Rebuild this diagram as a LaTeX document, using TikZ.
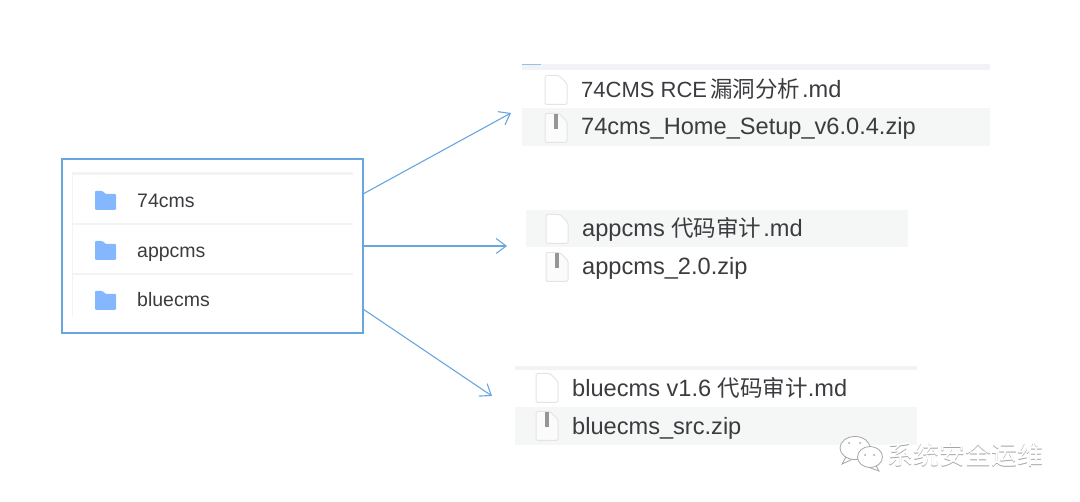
\documentclass[tikz,border=0pt]{standalone}
\usepackage{fontspec}
\setmainfont{Liberation Sans}
\newfontfamily\cjk{Noto Sans CJK SC}
\usetikzlibrary{arrows.meta,positioning}
\definecolor{lb}{RGB}{104,166,224}
\definecolor{fd}{RGB}{133,183,255}
\definecolor{tx}{RGB}{60,60,64}
\definecolor{rw}{RGB}{245,247,246}
\definecolor{sep}{RGB}{241,243,247}
\definecolor{ic}{RGB}{228,228,228}
\definecolor{zp}{RGB}{150,150,150}
\definecolor{wm}{RGB}{165,165,165}
\newcommand{\cj}[1]{{\cjk\fontsize{22.5}{24}\selectfont #1}}
\tikzset{
  conn/.style={draw=lb, line width=1.1pt, -{Straight Barb[length=10pt,width=15pt]}},
  treebox/.style={draw=lb, line width=1.4pt, minimum width=301pt, minimum height=174pt, inner sep=0pt},
  dirlabel/.style={anchor=base west, text=tx, font=\fontsize{19.5}{21}\selectfont, inner sep=0pt},
  filelabel/.style={anchor=base west, text=tx, font=\fontsize{23.6}{25}\selectfont, inner sep=0pt},
  rowbar/.style={fill=rw, draw=none},
  wmbubble/.style={draw=wm, line width=0.8pt, fill=white},
  pics/dirpic/.style={code={
    \fill[fd, rounded corners=1pt] (-10.5,-9.5) -- (-3,-9.5) -- (0,-6.5) -- (10.5,-6.5) -- (10.5,9.5) -- (-10.5,9.5) -- cycle;
  }},
  pics/docpic/.style={code={
    \draw[ic, fill=white, line width=1pt, rounded corners=1.5pt] (-11,-14.5) -- (3,-14.5) -- (11,-6.5) -- (11,14.5) -- (-11,14.5) -- cycle;
  }},
  pics/zippic/.style={code={
    \draw[ic, fill=white!50!rw, line width=1pt, rounded corners=1.5pt] (-11,-14.5) -- (3,-14.5) -- (11,-6.5) -- (11,14.5) -- (-11,14.5) -- cycle;
    \fill[zp] (-2,-14) rectangle (1.5,1);
  }}
}
\begin{document}
\begin{tikzpicture}[x=1pt,y=-1pt]
\useasboundingbox (0,0) rectangle (1080,502);
% left box
\node[treebox] (tree) at (212.5,246) {};
\fill[sep] (72,172) rectangle (353,175);
\fill[sep] (72,172) rectangle (73,317);
\fill[sep] (73,223.5) rectangle (353,225);
\fill[sep] (73,273.5) rectangle (353,275);
\foreach [count = \i from 0] \v in {74cms, appcms, bluecms}{
\pic at (105.5,200.5+50*\i) {dirpic};
\node[dirlabel] (dir\i) at (137,208+49.5*\i) {\v};
}
% right rows
\fill[sep] (522,64) rectangle (990,70);
\fill[lb!70] (522,64) rectangle (541,65.5);
\fill[rowbar] (522,108) rectangle (990,146);
\fill[rowbar] (526,210) rectangle (908,247.5);
\fill[sep] (515,366) rectangle (917,370);
\fill[rowbar] (515,407) rectangle (917,445);
\pic at (556,90) {docpic};
\pic at (556,128) {zippic};
\pic at (557,229) {docpic};
\pic at (557,267) {zippic};
\pic at (547,388) {docpic};
\pic at (547,426) {zippic};
\node[filelabel] (md74) at (581,97.5) {{\fontsize{22}{24}\selectfont 74CMS RCE}\kern3pt\cj{漏洞分析}\kern2pt.md};
\node[filelabel] (zip74) at (581,135) {74cms\_Home\_Setup\_v6.0.4.zip};
\node[filelabel] (mdapp) at (582,237) {appcms \cj{代码审计}\kern2pt.md};
\node[filelabel] (zipapp) at (582,275) {appcms\_2.0.zip};
\node[filelabel] (mdblue) at (572,397) {bluecms v1.6 \cj{代码审计}.md};
\node[filelabel] (zipblue) at (572,435) {bluecms\_src.zip};
% arrows
\coordinate (s1) at (363,194);
\coordinate (s3) at (363,309);
\coordinate (e1) at (511,113);
\coordinate (e2) at (507,246);
\coordinate (e3) at (492,396);
\draw[conn] (s1) -- (e1);
\draw[conn] (tree.east) -- (e2);
\draw[conn] (s3) -- (e3);
% watermark
\draw[wmbubble] (846,457) -- (842,464) -- (853,459);
\draw[wmbubble] (855,448) ellipse (15 and 11.5);
\draw[wmbubble] (875,464) -- (879,471) -- (868,467);
\draw[wmbubble] (870,457) ellipse (12.5 and 10.5);
\foreach \p in {(849,443),(860,443),(865,455),(874,455)}{
\fill[wm] \p circle (1);
}
\node[anchor=west, inner sep=0pt, text=wm, font=\cjk\fontsize{26}{28}\selectfont] (wmb) at (887.6,455.6) {系统安全运维};
\node[anchor=west, inner sep=0pt, text=white, font=\cjk\fontsize{26}{28}\selectfont] (wmt) at (887,455) {系统安全运维};
\end{tikzpicture}
\end{document}
